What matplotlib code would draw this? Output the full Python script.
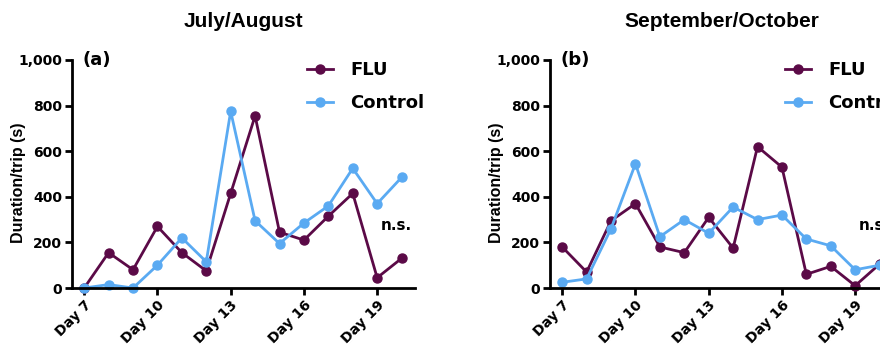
import numpy as np
import matplotlib
matplotlib.use("Agg")
import matplotlib.pyplot as plt

plt.rcParams['font.family'] = ['DejaVu Sans']

#---- Donnees
days = np.arange(7, 21)
tickDays = [7, 10, 13, 16, 19]
tickLabels = ["Day 7", "Day 10", "Day 13", "Day 16", "Day 19"]

fluJulAug = [0, 155, 80, 270, 155, 75, 415, 755, 245, 210, 315, 415, 45, 130]
ctlJulAug = [0, 15, 0, 100, 220, 115, 775, 295, 195, 285, 360, 525, 370, 485]

fluSepOct = [180, 70, 295, 370, 180, 155, 310, 175, 620, 530, 60, 95, 10, 105]
ctlSepOct = [25, 40, 260, 545, 225, 300, 240, 355, 300, 320, 215, 185, 80, 100]

titles = ["July/August", "September/October"]
panels = ["(a)", "(b)"]

colFlu = "#5b0a47"
colCtl = "#5aaaf2"

fig = plt.figure(figsize=(8.8, 3.48), dpi=100)
axA = fig.add_axes([0.0818, 0.1724, 0.3898, 0.6552])
axB = fig.add_axes([0.625, 0.1724, 0.3898, 0.6552])

for ax, flu, ctl, title, pan in zip([axA, axB], [fluJulAug, fluSepOct],
                                    [ctlJulAug, ctlSepOct], titles, panels):
    ax.plot(days, flu, '-o', color=colFlu, lw=2, ms=6.5, label="FLU", clip_on=False)
    ax.plot(days, ctl, '-o', color=colCtl, lw=2, ms=6.5, label="Control", clip_on=False)

    ax.set_xlim(6.5, 20.55)
    ax.set_ylim(0, 1000)
    ax.set_xticks(tickDays)
    ax.set_xticklabels(tickLabels, rotation=45, ha='right', rotation_mode='anchor',
                       fontsize=10, fontweight='bold')
    ax.set_yticks([0, 200, 400, 600, 800, 1000])
    ax.set_yticklabels(["0", "200", "400", "600", "800", "1,000"],
                       fontsize=10, fontweight='bold')
    ax.tick_params(width=2, length=5, direction='out', pad=2)
    for s in ['top', 'right']:
        ax.spines[s].set_visible(False)
    for s in ['left', 'bottom']:
        ax.spines[s].set_linewidth(2)

    ax.set_ylabel("Duration/trip (s)", fontsize=11.5, fontweight='bold',
                  family=['Liberation Sans', 'DejaVu Sans'])
    ax.yaxis.set_label_coords(-0.135, 0.46)
    ax.text(0.03, 0.96, pan, transform=ax.transAxes, fontsize=13,
            fontweight='bold', va='bottom', ha='left')
    ax.text(19.8, 276, "n.s.", fontsize=11, fontweight='bold', ha='center', va='center')

    ax.set_title(title, fontsize=15, fontweight='bold', pad=24,
                 family=['Liberation Sans', 'DejaVu Sans'])

    ax.legend(loc='upper left', bbox_to_anchor=(0.685, 0.996), frameon=False,
              prop={'weight': 'bold', 'size': 13},
              handlelength=1.45, handletextpad=0.95, labelspacing=0.85,
              borderpad=0, borderaxespad=0)

fig.savefig("out.png", dpi=100)
